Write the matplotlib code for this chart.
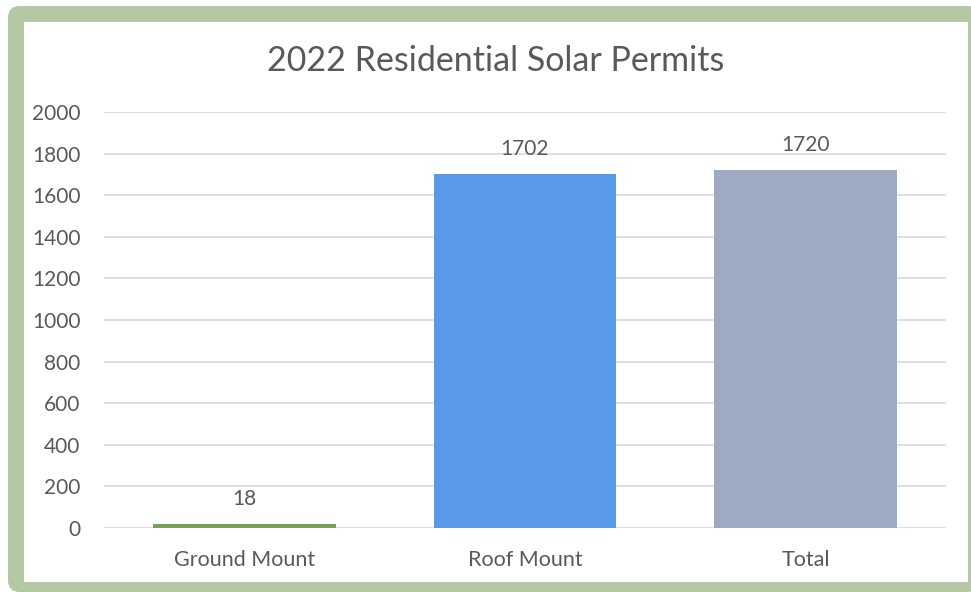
import matplotlib.pyplot as plt
from matplotlib.patches import FancyBboxPatch, Rectangle

categories = ['Ground Mount', 'Roof Mount', 'Total']
permits = [18, 1702, 1720]
bar_colors = ['#76a157', '#5899ea', '#9dabc2']
y_ticks = [0, 200, 400, 600, 800, 1000, 1200, 1400, 1600, 1800, 2000]

plt.rcParams['font.family'] = ['Lato', 'DejaVu Sans']
text_color = '#595959'

W, H = 971, 592
fig = plt.figure(figsize=(W / 100, H / 100), dpi=100)
fig.patch.set_facecolor('white')

# green frame with a white card inside
fig.patches.append(FancyBboxPatch((8 / W, 0), 1, (H - 6) / H,
                                  boxstyle='round,pad=0,rounding_size=0.012',
                                  transform=fig.transFigure, facecolor='#b3c8a3',
                                  edgecolor='none', mutation_aspect=W / H,
                                  zorder=-2))
fig.patches.append(Rectangle((24 / W, 10 / H), (968 - 24) / W, (582 - 22) / H,
                             transform=fig.transFigure, facecolor='white',
                             edgecolor='none', zorder=-1))

ax = fig.add_axes([104 / W, (H - 528) / H, (946 - 104) / W, (528 - 112) / H])
ax.set_facecolor('none')
bars = ax.bar(categories, permits, width=0.65, color=bar_colors, zorder=3)
ax.set_xlim(-0.5, 2.5)
ax.set_ylim(0, 2000)
ax.set_yticks(y_ticks)
ax.grid(axis='y', color='#d9d9d9', linewidth=1.2, zorder=0)
ax.set_axisbelow(True)
for s in ax.spines.values():
    s.set_visible(False)
ax.tick_params(axis='y', length=0, labelsize=15, colors=text_color, pad=17)
ax.tick_params(axis='x', length=0, labelsize=15.5, colors=text_color, pad=16)
ax.bar_label(bars, labels=[str(v) for v in permits], padding=11,
             fontsize=15, color=text_color)

fig.text(496 / W, 1 - 61 / H, '2022 Residential Solar Permits', ha='center',
         va='center', fontsize=24.5, color=text_color)

fig.savefig('out.png', dpi=100)
